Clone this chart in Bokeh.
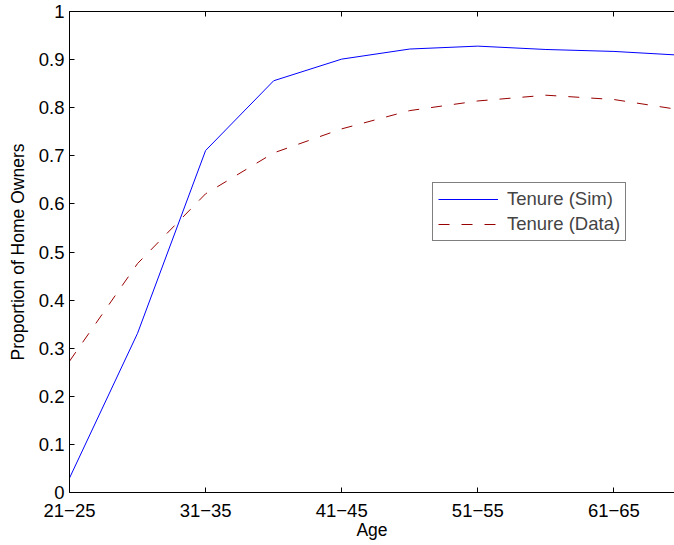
from bokeh.plotting import figure
from bokeh.models import LinearAxis, FixedTicker, Legend, LegendItem
from bokeh.embed import file_html
from bokeh.resources import INLINE

age_groups = ["21-25", "26-30", "31-35", "36-40", "41-45",
              "46-50", "51-55", "56-60", "61-65", "66-70"]
tenure_sim = [0.030, 0.331, 0.711, 0.856, 0.901, 0.922, 0.928, 0.921, 0.917, 0.909]
tenure_data = [0.273, 0.476, 0.621, 0.706, 0.756, 0.794, 0.814, 0.826, 0.817, 0.795]
y_ticks = [0, 0.1, 0.2, 0.3, 0.4, 0.5, 0.6, 0.7, 0.8, 0.9, 1]
y_tick_labels = ["0", "0.1", "0.2", "0.3", "0.4", "0.5", "0.6", "0.7", "0.8", "0.9", "1"]

xs = list(range(1, len(age_groups) + 1))
x_ticks = xs[::2]
x_tick_labels = {x: age_groups[x - 1].replace("-", "\u2212") for x in x_ticks}

FONT = "Liberation Sans"

p = figure(width=674, height=542, x_range=(1, 9.89), y_range=(0, 1),
           output_backend="svg", toolbar_location=None,
           min_border_left=69, min_border_right=0, min_border_top=11,
           min_border_bottom=10, x_axis_location="below")
p.xgrid.visible = False
p.ygrid.visible = False
p.outline_line_color = None
p.background_fill_color = "white"
p.border_fill_color = "white"

r1 = p.line(xs, tenure_sim, line_color="#0000ff", line_width=1)
r2 = p.line(xs, tenure_data, line_color="#990000", line_width=1, line_dash="11 12")

xa = p.xaxis[0]
xa.ticker = FixedTicker(ticks=x_ticks)
xa.major_label_overrides = x_tick_labels
xa.axis_label = "Age"
ya = p.yaxis[0]
ya.ticker = FixedTicker(ticks=y_ticks)
ya.major_label_overrides = {t: l for t, l in zip(y_ticks, y_tick_labels)}
ya.axis_label = "Proportion of Home Owners"

for ax in (xa, ya):
    ax.major_tick_in = 5
    ax.major_tick_out = 0
    ax.minor_tick_in = 0
    ax.minor_tick_out = 0
    ax.axis_line_color = "black"
    ax.major_tick_line_color = "black"
    ax.major_label_text_font = FONT
    ax.major_label_text_font_size = "18.5px"
    ax.major_label_text_color = "black"
    ax.axis_label_text_font = FONT
    ax.axis_label_text_font_size = "17.5px"
    ax.axis_label_text_font_style = "normal"
    ax.axis_label_text_color = "black"
xa.major_label_standoff = 11
ya.major_label_standoff = 5
xa.axis_label_standoff = 0
ya.axis_label_standoff = 8

top = LinearAxis(ticker=FixedTicker(ticks=x_ticks),
                 major_label_overrides={t: "" for t in x_ticks},
                 major_label_standoff=0, major_tick_in=5, major_tick_out=0,
                 minor_tick_in=0, minor_tick_out=0, axis_line_color="black")
p.add_layout(top, "above")

legend = Legend(items=[LegendItem(label="Tenure (Sim)", renderers=[r1]),
                       LegendItem(label="Tenure (Data)", renderers=[r2])],
                location=(363, 251), border_line_color="black", border_line_width=1,
                background_fill_color="white", background_fill_alpha=1.0,
                label_text_font=FONT, label_text_font_size="18.5px",
                glyph_width=60, glyph_height=20, label_standoff=9,
                padding=5, spacing=3, margin=0)
p.add_layout(legend, "center")

open("out.html", "w").write(file_html(p, INLINE))
